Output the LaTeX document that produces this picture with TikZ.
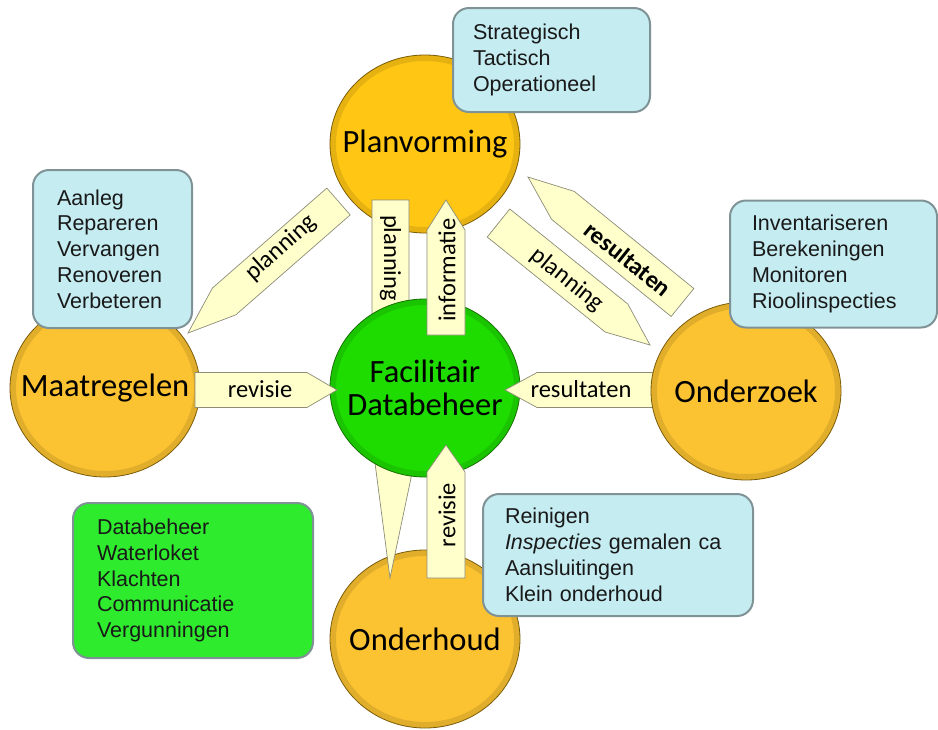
\documentclass[tikz,border=0pt]{standalone}
\usepackage{fontspec}
\setmainfont{Liberation Sans}
\newfontfamily\calib{Carlito}
\usetikzlibrary{calc,shapes.geometric}
\definecolor{orng}{HTML}{FBC232}
\definecolor{planc}{HTML}{FFC713}
\definecolor{orngrim}{HTML}{7A5C08}
\definecolor{grn}{HTML}{1EDC00}
\definecolor{grnrim}{HTML}{167000}
\definecolor{grnbox}{HTML}{2EEB2E}
\definecolor{lblue}{HTML}{C5ECF1}
\definecolor{boxrim}{HTML}{7F9396}
\definecolor{arrfill}{HTML}{FFFFCC}
\definecolor{arrrim}{HTML}{8C8C78}
\tikzset{
 bubble/.style={ellipse, minimum width=190pt, minimum height=178pt, inner sep=0pt,
   draw=orngrim, line width=0.8pt, fill=orng,
   path picture={\draw[line width=6pt, black, opacity=0.10] (path picture bounding box.center) ellipse (92pt and 86pt);}},
 bubtext/.style={inner sep=0pt, align=center, font=\calib\fontsize{32.5}{33}\selectfont},
 infobox/.style={rectangle, rounded corners=16pt, draw=boxrim, line width=2pt, fill=lblue,
   align=left, inner sep=0pt, text=black!90, font=\fontsize{21.5}{25.8}\selectfont},
 arrowbox/.style={fill=arrfill, draw=arrrim, line width=0.7pt, line join=miter},
 arrtext/.style={font=\calib\fontsize{24.5}{26}\selectfont, inner sep=0pt},
}
\newcommand\pentarrow[4]{%
 \coordinate (hb) at ($(#2)!#4pt!(#1)$);
 \draw[arrowbox] ($(#1)!#3pt!90:(#2)$) -- ($(hb)!#3pt!90:(#2)$) -- (#2)
   -- ($(hb)!#3pt!-90:(#2)$) -- ($(#1)!#3pt!-90:(#2)$) -- cycle;}
\begin{document}
\begin{tikzpicture}[x=1pt,y=-1pt]
\useasboundingbox (0,0) rectangle (938,729);
% arrow end points
\coordinate (rvT) at (195,390);   \coordinate (rvH) at (337,390);
\coordinate (rsT) at (665,390);   \coordinate (rsH) at (505,390);
\coordinate (inT) at (446,335);   \coordinate (inH) at (446,200);
\coordinate (rwT) at (446,578);   \coordinate (rwH) at (446,445);
\coordinate (pvT) at (390.5,200); \coordinate (pvH) at (390.5,350);
\coordinate (plT) at (338.5,201.5); \coordinate (plH) at (188,333);
\coordinate (prT) at (498.5,223); \coordinate (prH) at (650,345);
\coordinate (rdT) at (682.5,302.5); \coordinate (rdH) at (528,177);

% outer circles
\node[bubble, fill=planc] (plan) at (425,144) {};
\node[bubtext] (tplan) at (plan.center) {Planvorming};
\node[bubble] (maat) at (105,388) {};
\node[bubtext] (tmaat) at (maat.center) {Maatregelen};
\node[bubble] (onderh) at (425,639) {};
\node[bubtext] (tonderh) at (onderh.center) {Onderhoud};

% arrows under the centre
\pentarrow{pvT}{pvH}{18.5}{30}
\node[arrtext, rotate=-90] (tpv) at (390.5,258) {planning};
\draw[arrowbox] (372,440) -- (411,440) -- (411,478) -- (390,578) -- cycle;
\pentarrow{plT}{plH}{17.8}{48}
\node[arrtext, rotate=41.5] (tpl) at (281,248) {planning};
\pentarrow{prT}{prH}{18}{43}
\node[arrtext, rotate=-39] (tpr) at (567,280) {planning};
\pentarrow{rdT}{rdH}{18}{45}
\node[arrtext, rotate=-38.7, font=\calib\bfseries\fontsize{24.5}{26}\selectfont] (trd) at (628,259) {resultaten};

% centre
\node[bubble, fill=grn, draw=grnrim] (fac) at (425,388) {};
\node[bubtext] (tfac) at (fac.center) {Facilitair\\Databeheer};

\pentarrow{rsT}{rsH}{17.5}{32}
\node[arrtext] (trs) at (581,389) {resultaten};
\node[bubble] (onderz) at (746,391) {};
\node[bubtext] (tonderz) at (onderz.center) {Onderzoek};

\pentarrow{rvT}{rvH}{17.5}{30}
\node[arrtext] (trv) at (260,389) {revisie};
\pentarrow{inT}{inH}{19}{30}
\node[arrtext, rotate=90] (tin) at (447,270) {informatie};
\pentarrow{rwT}{rwH}{19}{27}
\node[arrtext, rotate=90] (trw) at (447,515) {revisie};

% info boxes
\node[infobox, minimum width=197pt, minimum height=104pt, text width=157pt] (bplan) at (551.5,60)
 {Strategisch\\Tactisch\\Operationeel};
\node[infobox, minimum width=159pt, minimum height=158pt, text width=111pt] (bmaat) at (112.5,249)
 {Aanleg\\Repareren\\Vervangen\\Renoveren\\Verbeteren};
\node[infobox, minimum width=207pt, minimum height=127pt, text width=163pt] (bonderz) at (833.5,264)
 {Inventariseren\\Berekeningen\\Monitoren\\Rioolinspecties};
\node[infobox, minimum width=270pt, minimum height=122pt, text width=226pt] (bonderh) at (618,555)
 {Reinigen\\\textit{Inspecties} gemalen ca\\Aansluitingen\\Klein onderhoud};
\node[infobox, fill=grnbox, minimum width=240pt, minimum height=155pt, text width=192pt] (bfac) at (193,580.5)
 {Databeheer\\Waterloket\\Klachten\\Communicatie\\Vergunningen};
\end{tikzpicture}
\end{document}
